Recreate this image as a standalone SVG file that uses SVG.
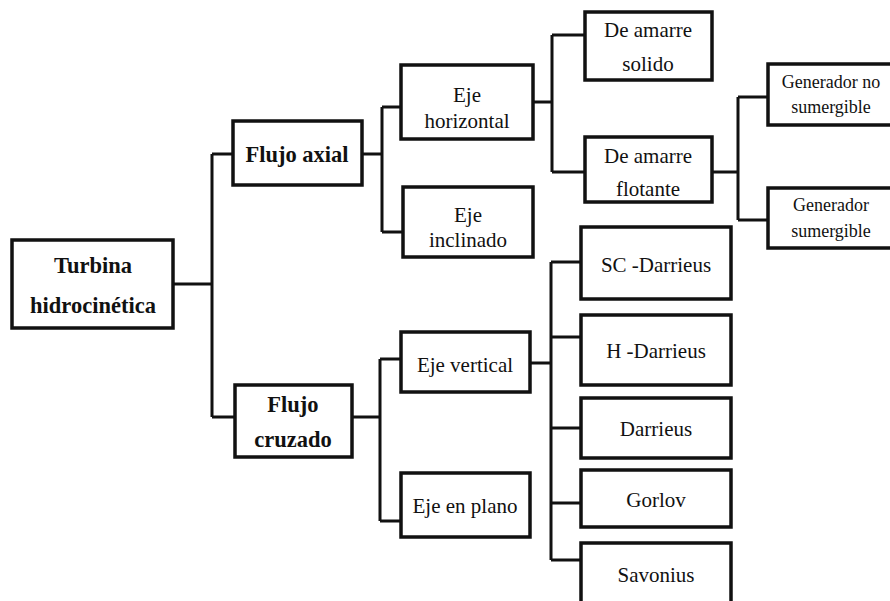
<svg xmlns="http://www.w3.org/2000/svg" width="890" height="601" viewBox="0 0 890 601">
<style>
.box{fill:#fff;stroke:#111;stroke-width:3.5}
.c{fill:none;stroke:#111;stroke-width:3}
text{font-family:"Liberation Serif",Tinos,"Times New Roman",Times,"DejaVu Serif",serif;fill:#111;text-anchor:middle}
.b{font-weight:bold;font-size:22.5px}
.r{font-size:21px;font-weight:normal}
.s{font-size:18px;font-weight:normal}
</style>
<rect width="890" height="601" fill="#fff"/>
<g id="connectors">
<path class="c" d="M173 284H212M212 154V417M212 154H233M212 417H235"/>
<path class="c" d="M362 154H382M382 107V232M382 107H401M382 232H403"/>
<path class="c" d="M533 102H552M552 35V172M552 35H585M552 172H585"/>
<path class="c" d="M712 172H738M738 97V220M738 97H768M738 220H768"/>
<path class="c" d="M352 417H380M380 359V521M380 359H401M380 521H401"/>
<path class="c" d="M530 363H551M551 262V560M551 262H581M551 337H581M551 428H581M551 503H581M551 560H581"/>
</g>
<g id="turbina"><rect class="box" x="12" y="240" width="161" height="88"/><text class="b" x="93" y="273">Turbina</text><text class="b" x="93" y="313">hidrocinética</text></g>
<g id="flujo-axial"><rect class="box" x="233" y="121" width="129" height="64"/><text class="b" x="297" y="162">Flujo axial</text></g>
<g id="flujo-cruzado"><rect class="box" x="235" y="385" width="117" height="72"/><text class="b" x="293" y="412">Flujo</text><text class="b" x="293" y="447">cruzado</text></g>
<g id="eje-horizontal"><rect class="box" x="401" y="65" width="132" height="74"/><text class="r" x="467" y="102">Eje</text><text class="r" x="467" y="128">horizontal</text></g>
<g id="eje-inclinado"><rect class="box" x="403" y="187" width="130" height="70"/><text class="r" x="468" y="222">Eje</text><text class="r" x="468" y="247">inclinado</text></g>
<g id="amarre-solido"><rect class="box" x="585" y="12" width="127" height="68"/><text class="r" x="648" y="37">De amarre</text><text class="r" x="648" y="71">solido</text></g>
<g id="amarre-flotante"><rect class="box" x="585" y="137" width="127" height="65"/><text class="r" x="648" y="163">De amarre</text><text class="r" x="648" y="196">flotante</text></g>
<g id="gen-no-sumergible"><rect class="box" x="768" y="64" width="130" height="61"/><text class="s" x="831" y="88">Generador no</text><text class="s" x="831" y="113">sumergible</text></g>
<g id="gen-sumergible"><rect class="box" x="768" y="188" width="130" height="60"/><text class="s" x="831" y="211">Generador</text><text class="s" x="831" y="237">sumergible</text></g>
<g id="eje-vertical"><rect class="box" x="401" y="332" width="129" height="60"/><text class="r" x="465" y="372">Eje vertical</text></g>
<g id="eje-en-plano"><rect class="box" x="401" y="473" width="129" height="64"/><text class="r" x="465" y="513">Eje en plano</text></g>
<g id="sc-darrieus"><rect class="box" x="581" y="227" width="150" height="72"/><text class="r" x="656" y="272">SC -Darrieus</text></g>
<g id="h-darrieus"><rect class="box" x="581" y="315" width="150" height="70"/><text class="r" x="656" y="358">H -Darrieus</text></g>
<g id="darrieus"><rect class="box" x="581" y="398" width="150" height="60"/><text class="r" x="656" y="436">Darrieus</text></g>
<g id="gorlov"><rect class="box" x="581" y="470" width="150" height="57"/><text class="r" x="656" y="507">Gorlov</text></g>
<g id="savonius"><rect class="box" x="581" y="543" width="150" height="65"/><text class="r" x="656" y="582">Savonius</text></g>
</svg>
